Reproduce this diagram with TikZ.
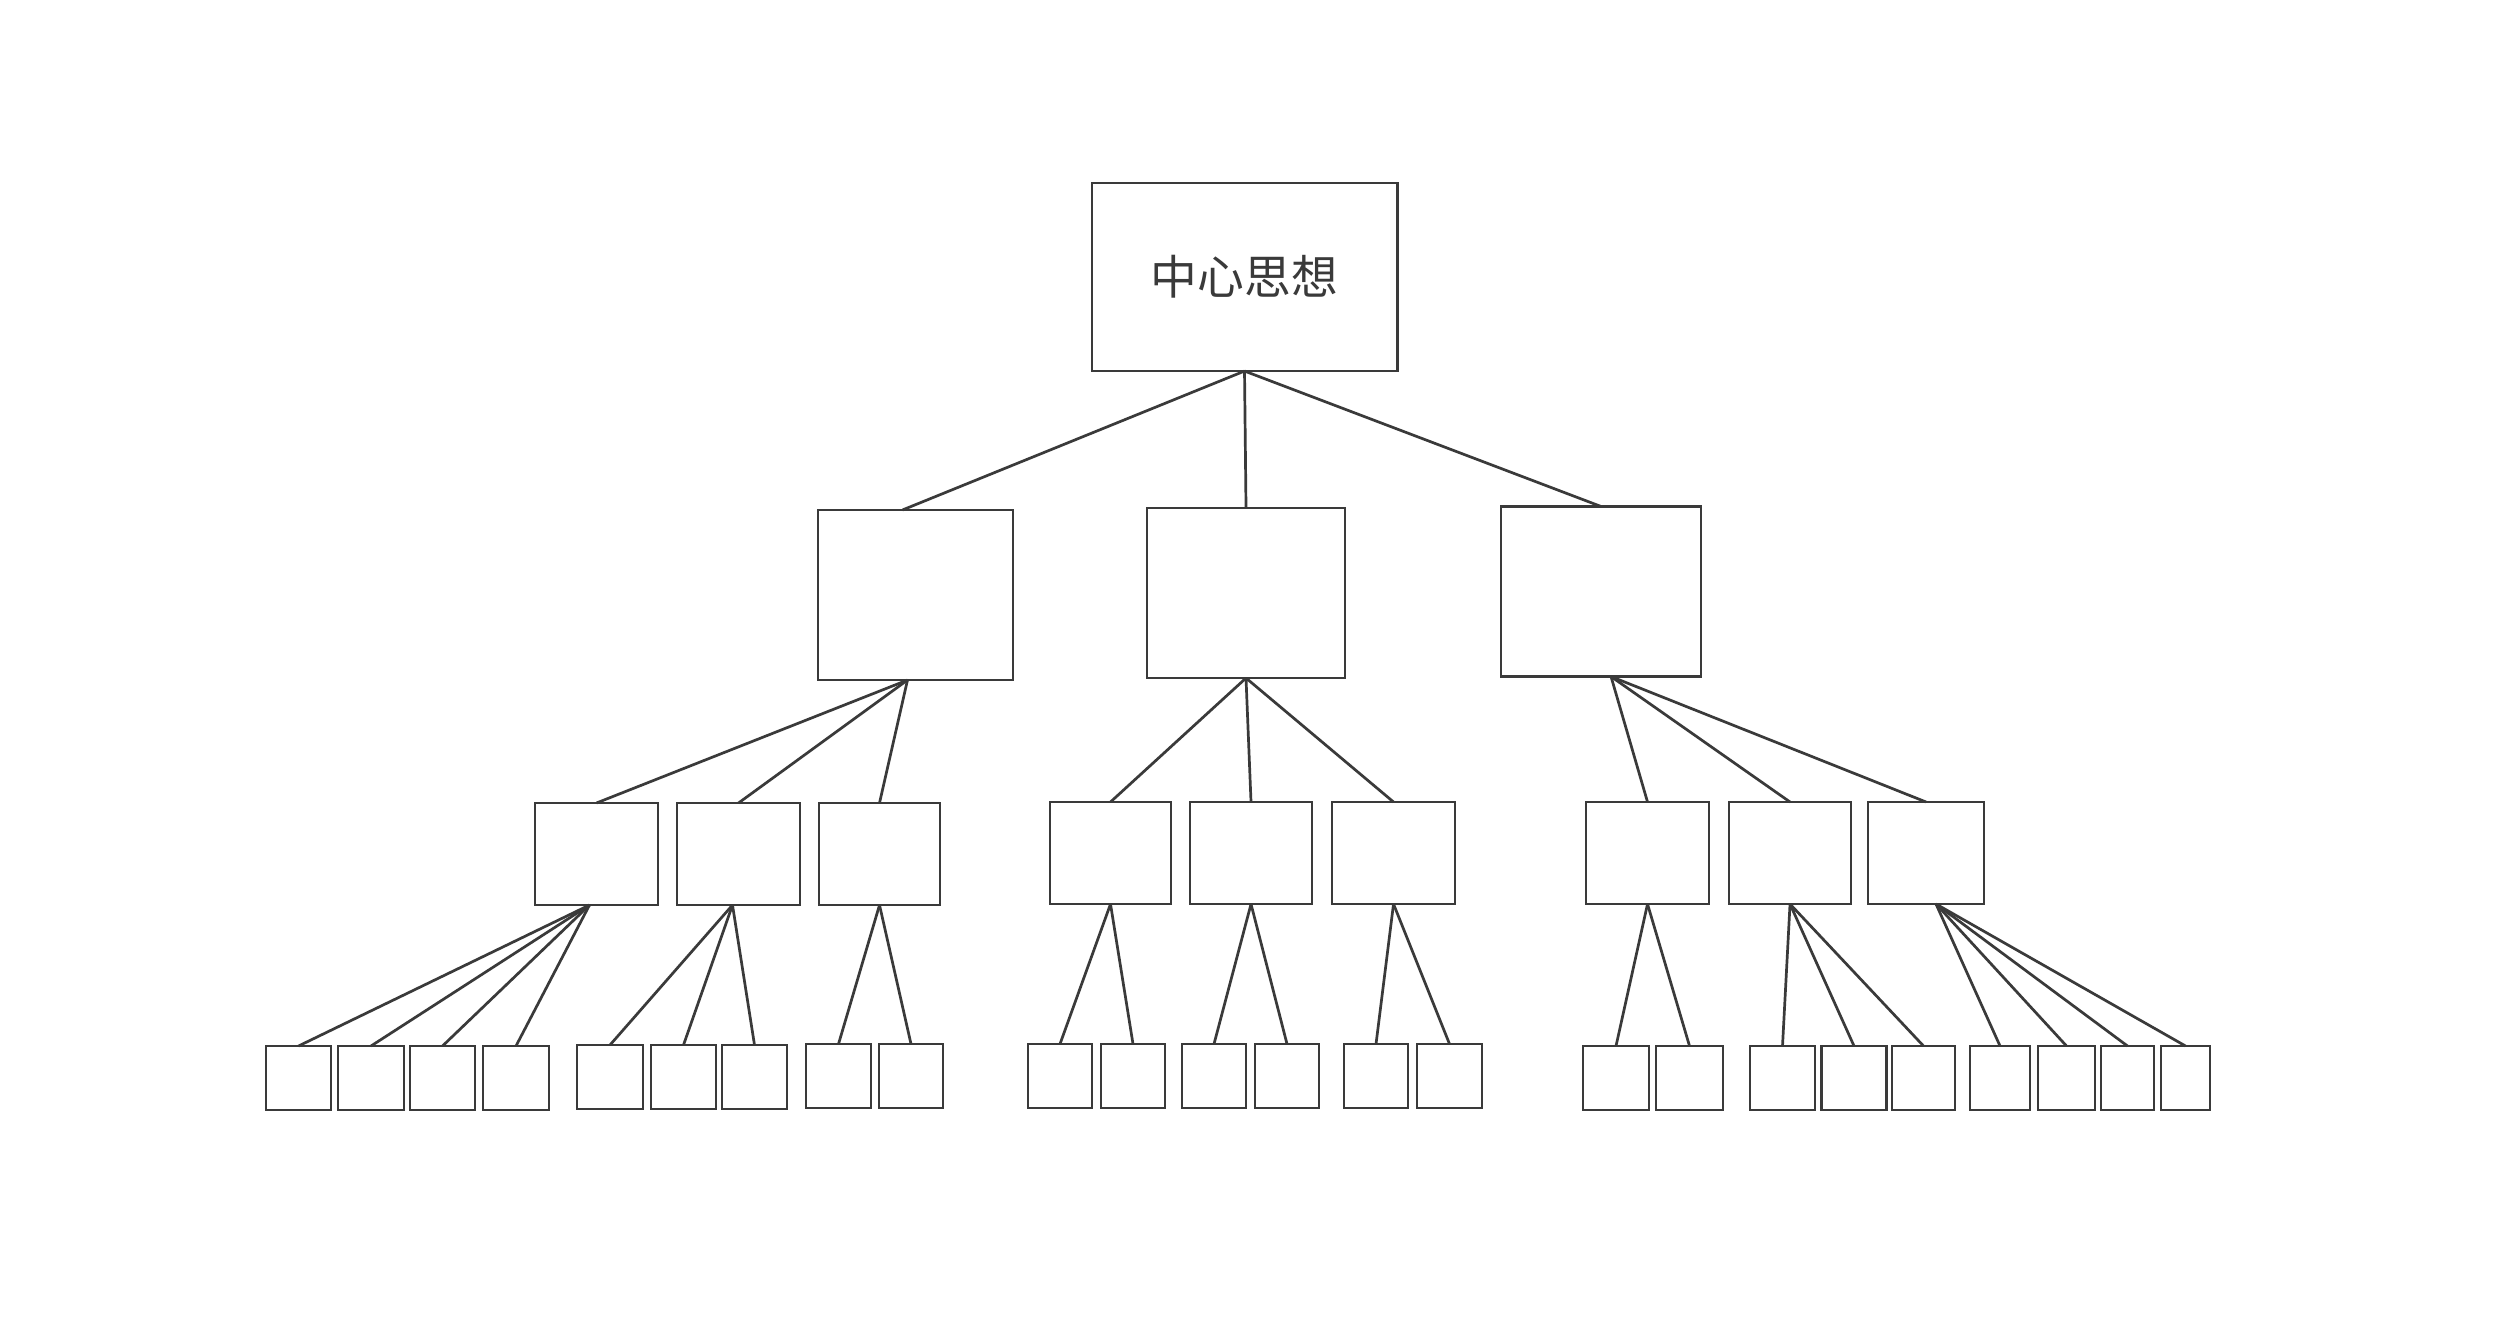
\documentclass[tikz,border=0pt]{standalone}
\usepackage{fontspec}
\newfontfamily\cjk{Noto Sans CJK SC}
\definecolor{ink}{HTML}{3A3A3A}
\begin{document}
\begin{tikzpicture}[x=0.01cm,y=-0.01cm,
  box/.style={draw=ink, line width=0.028cm, inner sep=0pt, outer sep=0pt, fill=white},
  lvltwo/.style={box, minimum width=1.97cm, minimum height=1.70cm},
  lvlthree/.style={box, minimum width=1.22cm, minimum height=1.02cm},
  leaf/.style={box, minimum width=0.65cm, minimum height=0.64cm},
  link/.style={draw=ink, line width=0.027cm}]
\useasboundingbox[fill=white] (0,0) rectangle (2519,1324);

% top
\node[box, minimum width=3.05cm, minimum height=1.88cm, text=ink, font=\cjk\fontsize{13.3pt}{16pt}\selectfont] (T) at (1244.5,277) {中心思想};

% level 2
\node[lvltwo, minimum width=1.95cm] (A) at (915.5,595) {};
\node[lvltwo, minimum width=1.98cm] (B) at (1246,593) {};
\node[lvltwo, minimum width=2.00cm] (C) at (1601,591.5) {};

% level 3
\node[lvlthree, minimum width=1.23cm] (a1) at (596.5,854) {};
\node[lvlthree, minimum width=1.23cm] (a2) at (738.5,854) {};
\node[lvlthree, minimum width=1.21cm] (a3) at (879.5,854) {};
\node[lvlthree, minimum width=1.21cm] (b1) at (1110.5,853) {};
\node[lvlthree] (b2) at (1251,853) {};
\node[lvlthree, minimum width=1.23cm] (b3) at (1393.5,853) {};
\node[lvlthree, minimum width=1.23cm] (c1) at (1647.5,853) {};
\node[lvlthree] (c2) at (1790,853) {};
\node[lvlthree, minimum width=1.16cm] (c3) at (1926,853) {};

% level 4
\node[leaf] (l1) at (298.5,1078) {};
\node[leaf, minimum width=0.66cm] (l2) at (371,1078) {};
\node[leaf] (l3) at (442.5,1078) {};
\node[leaf, minimum width=0.66cm] (l4) at (516,1078) {};
\node[leaf, minimum width=0.66cm] (l5) at (610,1077) {};
\node[leaf] (l6) at (683.5,1077) {};
\node[leaf] (l7) at (754.5,1077) {};
\node[leaf] (l8) at (838.5,1076) {};
\node[leaf, minimum width=0.64cm] (l9) at (911,1076) {};
\node[leaf, minimum width=0.64cm] (l10) at (1060,1076) {};
\node[leaf, minimum width=0.64cm] (l11) at (1133,1076) {};
\node[leaf, minimum width=0.64cm] (l12) at (1214,1076) {};
\node[leaf, minimum width=0.64cm] (l13) at (1287,1076) {};
\node[leaf, minimum width=0.64cm] (l14) at (1376,1076) {};
\node[leaf] (l15) at (1449.5,1076) {};
\node[leaf, minimum width=0.66cm] (l16) at (1616,1078) {};
\node[leaf, minimum width=0.67cm] (l17) at (1689.5,1078) {};
\node[leaf] (l18) at (1782.5,1078) {};
\node[leaf] (l19) at (1854,1078) {};
\node[leaf, minimum width=0.63cm] (l20) at (1923.5,1078) {};
\node[leaf, minimum width=0.60cm] (l21) at (2000,1078) {};
\node[leaf, minimum width=0.57cm] (l22) at (2066.5,1078) {};
\node[leaf, minimum width=0.53cm] (l23) at (2127.5,1078) {};
\node[leaf, minimum width=0.49cm] (l24) at (2185.5,1078) {};

% connectors top -> level 2
\draw[link] (T.south) -- ([xshift=-0.13cm]A.north);
\draw[link] (T.south) -- (B.north);
\draw[link] (T.south) -- (C.north);

% level 2 -> level 3
\foreach \c in {a1,a2,a3} \draw[link] ([xshift=-0.08cm]A.south) -- (\c.north);
\foreach \c in {b1,b2,b3} \draw[link] (B.south) -- (\c.north);
\foreach \c in {c1,c2,c3} \draw[link] ([xshift=0.10cm]C.south) -- (\c.north);

% level 3 -> level 4
\foreach \c in {l1,l2,l3,l4} \draw[link] ([xshift=-0.07cm]a1.south) -- (\c.north);
\foreach \c in {l5,l6,l7} \draw[link] ([xshift=-0.06cm]a2.south) -- (\c.north);
\foreach \c in {l8,l9} \draw[link] (a3.south) -- (\c.north);
\foreach \c in {l10,l11} \draw[link] (b1.south) -- (\c.north);
\foreach \c in {l12,l13} \draw[link] (b2.south) -- (\c.north);
\foreach \c in {l14,l15} \draw[link] (b3.south) -- (\c.north);
\foreach \c in {l16,l17} \draw[link] (c1.south) -- (\c.north);
\foreach \c in {l18,l19,l20} \draw[link] (c2.south) -- (\c.north);
\foreach \c in {l21,l22,l23,l24} \draw[link] ([xshift=0.10cm]c3.south) -- (\c.north);
\end{tikzpicture}
\end{document}
